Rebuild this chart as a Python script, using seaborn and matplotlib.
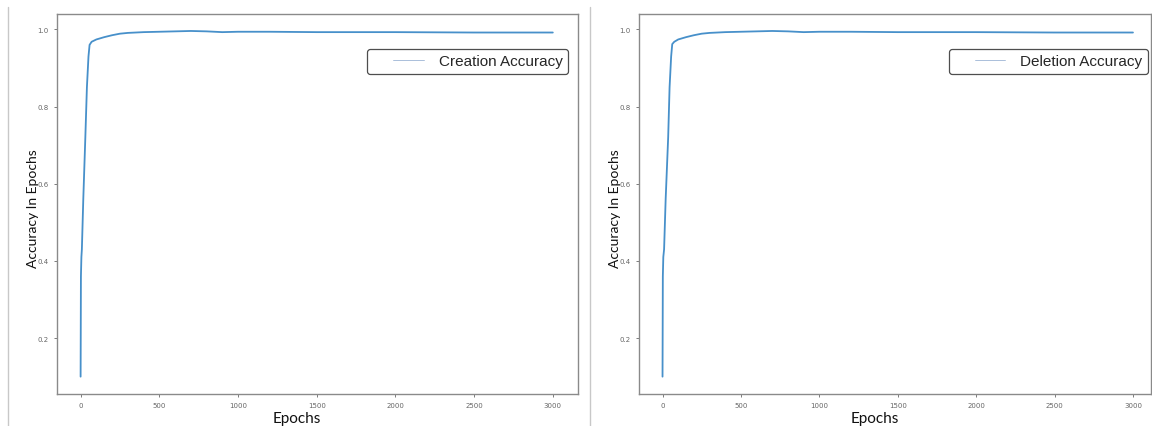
import pandas as pd
import matplotlib.pyplot as plt
import seaborn as sns
from matplotlib.lines import Line2D

# values
creation_epochs = [0, 2, 5, 8, 17, 30, 40, 50, 57, 70, 100, 150, 200, 250, 300, 400,
                   500, 600, 700, 800, 900, 1000, 1100, 1200, 1500, 2000, 2500, 3000]
creation_acc = [0.10, 0.36, 0.41, 0.43, 0.56, 0.72, 0.85, 0.93, 0.960, 0.968, 0.974,
                0.980, 0.985, 0.989, 0.991, 0.993, 0.994, 0.995, 0.996, 0.995, 0.993,
                0.994, 0.994, 0.994, 0.993, 0.993, 0.992, 0.992]

deletion_epochs = [0, 2, 5, 10, 20, 36, 45, 55, 62, 75, 100, 150, 200, 250, 300, 400,
                   500, 600, 700, 800, 900, 1000, 1100, 1200, 1500, 2000, 2500, 3000]
deletion_acc = [0.10, 0.36, 0.41, 0.43, 0.56, 0.72, 0.85, 0.93, 0.962, 0.968, 0.974,
                0.980, 0.985, 0.989, 0.991, 0.993, 0.994, 0.995, 0.996, 0.995, 0.993,
                0.994, 0.994, 0.994, 0.993, 0.993, 0.992, 0.992]

x_label = "Epochs"
y_label = "Accuracy In Epochs"

df_c = pd.DataFrame({"epoch": creation_epochs, "acc": creation_acc})
df_d = pd.DataFrame({"epoch": deletion_epochs, "acc": deletion_acc})

sns.set_style("ticks")
plt.rcParams["font.family"] = ["DejaVu Sans"]

W, H = 1152, 427
fig = plt.figure(figsize=(W / 100, H / 100), dpi=100)


def px_box(x0, x1, y0, y1):
    return [x0 / W, (H - y1) / H, (x1 - x0) / W, (y1 - y0) / H]


ax1 = fig.add_axes(px_box(57, 578, 15, 395))
ax2 = fig.add_axes(px_box(639, 1151, 15, 395))

line_color = "#4790ca"
panels = [(ax1, df_c, "Creation Accuracy", (-150, 3160), 0.981),
          (ax2, df_d, "Deletion Accuracy", (-150, 3115), 0.994)]

for ax, df, lab, xlim, leg_x in panels:
    sns.lineplot(data=df, x="epoch", y="acc", ax=ax, color=line_color,
                 linewidth=1.3, label=lab)
    ax.set_xlim(*xlim)
    ax.set_ylim(0.055, 1.04)
    ax.set_xticks([0, 500, 1000, 1500, 2000, 2500, 3000])
    ax.set_yticks([0.2, 0.4, 0.6, 0.8, 1.0])
    ax.tick_params(labelsize=5, length=2.5, width=0.6, colors="#666666")
    for s in ax.spines.values():
        s.set_color("#8a8a8a")
        s.set_linewidth(1.0)
    ax.set_xlabel(x_label, fontsize=11, family="Lato", color="#111111")
    ax.set_ylabel(y_label, fontsize=10, family="Lato", color="#111111")
    ax.xaxis.set_label_coords(0.46, -0.045)
    ax.yaxis.set_label_coords(-0.035, 0.49)
    leg = ax.legend(loc="upper right", bbox_to_anchor=(leg_x, 0.908),
                    prop={"family": "Liberation Sans", "size": 11},
                    frameon=True, fancybox=True, handlelength=3.35,
                    handletextpad=1.0, borderpad=0.35, borderaxespad=0)
    leg.get_frame().set_edgecolor("#222222")
    leg.get_frame().set_linewidth(0.9)
    for h in leg.get_lines():
        h.set_linewidth(0.6)
        h.set_color("#9cb4d4")
        xd = list(h.get_xdata())
        yd = list(h.get_ydata())
        x0, x1 = xd[0], xd[-1]
        h.set_data([x0 + 0.41 * (x1 - x0), x1], [yd[0], yd[0]])

# screenshot separators
for xp in (8, 590):
    fig.add_artist(Line2D([xp / W, xp / W], [0, (H - 8) / H],
                          color="#c8c8c8", linewidth=1.0))

fig.savefig("out.png", dpi=100)
